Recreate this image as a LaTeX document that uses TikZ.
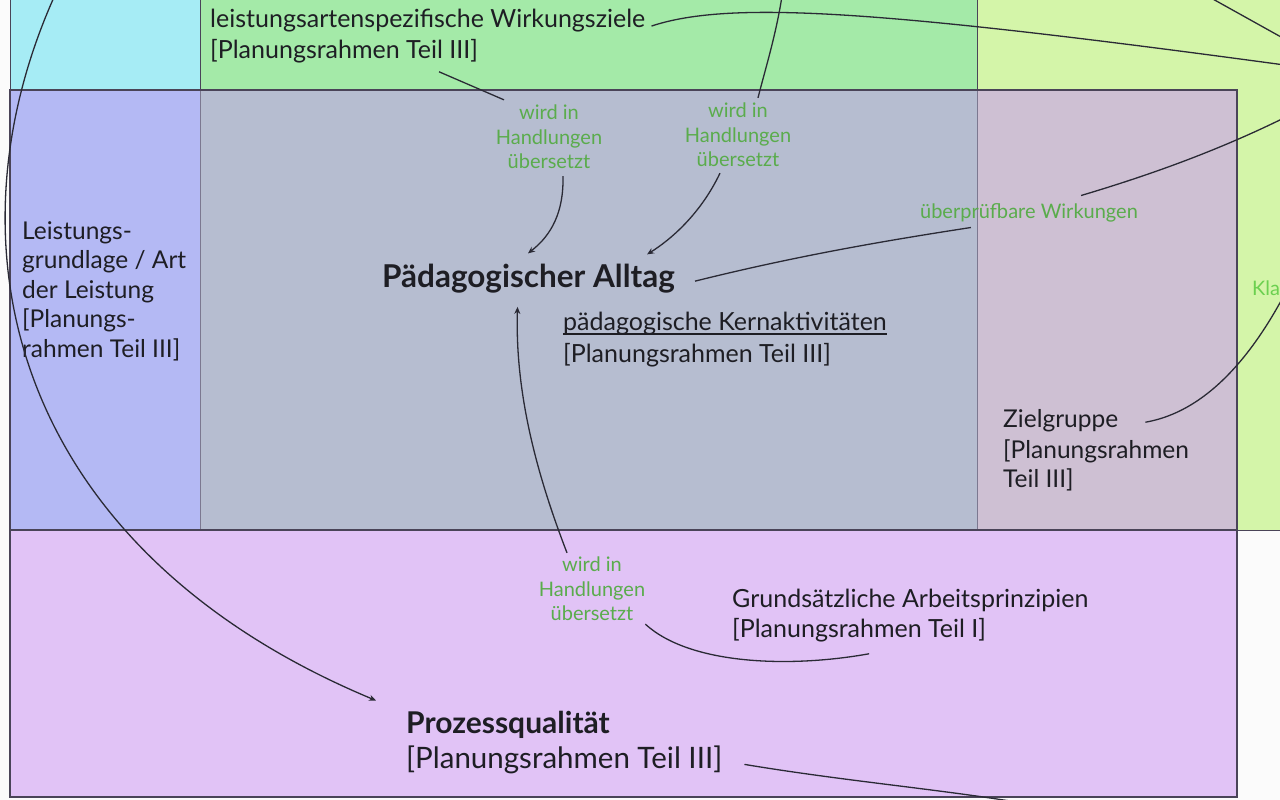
\documentclass[tikz,border=0pt]{standalone}
\usepackage{fontspec}
\setmainfont{Lato}
\usetikzlibrary{arrows.meta,calc}
\definecolor{pagebg}{HTML}{FBFBFB}
\definecolor{cyanbg}{HTML}{A6ECF5}
\definecolor{greenbg}{HTML}{A4EAA8}
\definecolor{yellowbg}{HTML}{D4F5A9}
\definecolor{bluebg}{HTML}{B4B9F4}
\definecolor{centerbg}{HTML}{B6BDD0}
\definecolor{mauvebg}{HTML}{CEC0D3}
\definecolor{lavbg}{HTML}{E1C3F6}
\definecolor{edgec}{HTML}{4A4458}
\definecolor{softedge}{HTML}{7C7890}
\definecolor{linec}{HTML}{2A2A35}
\definecolor{textc}{HTML}{1E1E24}
\definecolor{greenc}{HTML}{5AAC4C}
\definecolor{brightgreen}{HTML}{6CD050}
\begin{document}
\begin{tikzpicture}[x=1pt,y=-1pt,
  conn/.style={draw=linec, line width=1.3pt},
  arr/.style={conn, -{Stealth[length=7pt,width=6pt]}},
  txt/.style={inner sep=0pt, anchor=base west, text=textc},
  szA/.style={font=\fontsize{24.5}{29}\selectfont},
  szB/.style={font=\fontsize{25}{30}\selectfont},
  szP/.style={font=\fontsize{29.5}{34}\selectfont},
  lbl/.style={inner sep=0pt, align=center, text=greenc, font=\fontsize{20}{24.5}\selectfont},
]
\useasboundingbox (0,0) rectangle (1280,800);
\clip (0,0) rectangle (1280,800);
% backgrounds
\fill[pagebg] (0,0) rectangle (1280,800);
\fill[cyanbg] (10,0) rectangle (200,90);
\fill[greenbg] (200,0) rectangle (977,90);
\fill[yellowbg] (977,0) rectangle (1280,530);
\fill[bluebg] (10,90) rectangle (200,530);
\fill[centerbg] (200,90) rectangle (977,530);
\fill[mauvebg] (977,90) rectangle (1237,530);
\fill[lavbg] (10,530) rectangle (1237,797);
% borders
\draw[edgec, line width=1pt] (10,0) -- (10,90);
\draw[edgec, line width=1pt] (200,0) -- (200,90);
\draw[edgec, line width=1pt] (977,0) -- (977,90);
\draw[softedge, line width=1pt] (200,90) -- (200,530);
\draw[softedge, line width=1pt] (977,90) -- (977,530);
\draw[edgec, line width=1pt] (1237,530) -- (1280,530);
\draw[edgec, line width=1.6pt] (10,530) -- (1237,530);
\draw[edgec, line width=1.6pt] (10,90) rectangle (1237,797);

% texts
\node[txt,szB] (wz1) at (210,28) {leistungsartenspezifische Wirkungsziele};
\node[txt,szB] (wz2) at (210,59) {[Planungsrahmen Teil III]};

\node[txt,szA] (lg1) at (22,239) {Leistungs-};
\node[txt,szA] (lg2) at (22,268.5) {grundlage / Art};
\node[txt,szA] (lg3) at (22,298) {der Leistung};
\node[txt,szA] (lg4) at (22,327.5) {[Planungs-};
\node[txt,szA] (lg5) at (22,357) {rahmen Teil III]};

\node[txt,font=\fontsize{31.5}{36}\bfseries] (alltag) at (382,287) {Pädagogischer Alltag};

\node[txt,szB] (kern1) at (563,330) {pädagogische Kernaktivitäten};
\node[txt,szB] (kern2) at (563,362) {[Planungsrahmen Teil III]};
\draw[textc, line width=1.1pt] ($(kern1.base west)+(0,4)$) -- ($(kern1.base east)+(0,4)$);

\node[txt,szA] (ziel1) at (1003,427) {Zielgruppe};
\node[txt,szA] (ziel2) at (1003,458) {[Planungsrahmen};
\node[txt,szA] (ziel3) at (1003,487) {Teil III]};

\node[txt,szB] (gr1) at (732,607) {Grundsätzliche Arbeitsprinzipien};
\node[txt,szB] (gr2) at (732,637) {[Planungsrahmen Teil I]};

\node[txt,font=\fontsize{30}{34}\bfseries] (proz1) at (406,733) {Prozessqualität};
\node[txt,szP] (proz2) at (406,768) {[Planungsrahmen Teil III]};

\node[lbl] (lab1) at (549,137) {wird in\\Handlungen\\übersetzt};
\node[lbl] (lab2) at (738,135) {wird in\\Handlungen\\übersetzt};
\node[lbl] (lab3) at (592,589) {wird in\\Handlungen\\übersetzt};
\node[lbl] (ueb) at (1029,213) {überprüfbare Wirkungen};
\node[inner sep=0pt, anchor=base west, text=brightgreen, font=\fontsize{20}{24.5}\selectfont] (kla) at (1252,295) {Kla};

% free ends off the picture
\coordinate (topA) at (55,-5);
\coordinate (topB) at (1211,-2);
\coordinate (rightB) at (1290,42);
\coordinate (rightC) at (1292,66);
\coordinate (topD) at (782,-4);
\coordinate (rightE) at (1290,115);
\coordinate (rightF) at (1292,280);
\coordinate (bottomG) at (1040,806);

% connectors
\draw[arr] (topA) .. controls (-60,250) and (15,550) .. ($(proz1.north west)+(-30,-10)$);
\draw[conn] (topB) -- (rightB);
\draw[conn] ($(wz1.east)+(6,5)$) .. controls (730,0) and (880,10) .. (rightC);
\draw[conn] (topD) .. controls (776,35) and (765,70) .. ($(lab2.north)+(20,-5)$);
\draw[conn] ($(wz2.south west)+(229,8)$) -- ($(lab1.north)+(-45,-5)$);
\draw[arr] ($(lab1.south)+(14,7)$) .. controls (564,220) and (545,240) .. ($(alltag.north west)+(146,-10)$);
\draw[arr] ($(lab2.south)+(-18,6)$) .. controls (700,215) and (670,240) .. ($(alltag.north east)+(-28,-9)$);
\draw[conn] (rightE) .. controls (1220,150) and (1150,175) .. ($(ueb.north east)+(-57,-8)$);
\draw[conn] ($(ueb.south west)+(51,5)$) .. controls (890,240) and (800,255) .. ($(alltag.east)+(20,3)$);
\draw[conn] (rightF) .. controls (1262,340) and (1215,410) .. ($(ziel1.east)+(27,2)$);
\draw[arr] ($(lab3.north)+(-25,-4)$) .. controls (535,470) and (515,390) .. ($(alltag.south)+(-11,14)$);
\draw[conn] ($(lab3.south east)+(0,3)$) .. controls (690,665) and (790,668) .. ($(gr2.south)+(10,12)$);
\draw[conn] ($(proz2.east)+(22,5)$) .. controls (850,782) and (950,790) .. (bottomG);
\end{tikzpicture}
\end{document}
